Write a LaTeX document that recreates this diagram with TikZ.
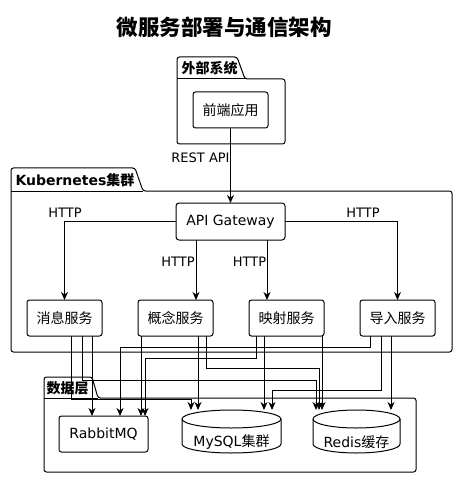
\documentclass[tikz,border=0pt]{standalone}
\usepackage{fontspec}
\setmainfont{DejaVu Sans}
\newfontfamily\cjk{Noto Sans CJK SC}
\usetikzlibrary{arrows.meta}
\begin{document}
\begin{tikzpicture}[x=1pt,y=-1pt,line width=1pt,
  box/.style={draw,fill=white,rounded corners=2.5pt,minimum width=75pt,minimum height=36pt,inner sep=0pt,outer sep=0pt,font=\fontsize{14}{16}\selectfont},
  dbbox/.style={draw=none,minimum height=42pt,inner sep=0pt,outer sep=0pt},
  dbtext/.style={inner sep=0pt,font=\fontsize{14}{16}\selectfont},
  lbl/.style={inner sep=0pt,font=\fontsize{13}{15}\selectfont},
  pkglbl/.style={inner sep=0pt,anchor=west,font=\bfseries\fontsize{14}{16}\selectfont},
  pkgline/.style={draw,rounded corners=2.5pt},
  arr/.style={-{Stealth[length=8pt,width=7pt,inset=2.5pt]}}
]
\useasboundingbox (0,0) rectangle (458,478);

% title
\node[inner sep=0pt,font=\bfseries\fontsize{21.5}{24}\selectfont] (title) at (224,27) {\cjk 微服务部署与通信架构};

% packages
\draw[pkgline] (177,57) -- (237,57) -- (245,79) -- (285,79) -- (285,144) -- (177,144) -- cycle;
\draw (177,79) -- (245,79);
\node[pkglbl] (extlbl) at (181,68) {\cjk 外部系统};

\draw[pkgline] (11,168) -- (135,168) -- (143,191) -- (452,191) -- (452,352) -- (11,352) -- cycle;
\draw (11,191) -- (143,191);
\node[pkglbl] (k8slbl) at (15,180) {Kubernetes{\cjk 集群}};

\draw[pkgline] (44,377) -- (92,377) -- (98,398) -- (416,398) -- (416,472) -- (44,472) -- cycle;
\draw (44,398) -- (98,398);
\node[pkglbl] (datalbl) at (46,388) {\cjk 数据层};

% nodes
\node[box] (fe) at (230.5,110) {\cjk 前端应用};
\node[box,minimum width=109pt,minimum height=37pt,rounded corners=3pt] (gw) at (230.5,221.5) {API Gateway};
\node[box] (msg) at (64.5,318) {\cjk 消息服务};
\node[box] (con) at (175.5,318) {\cjk 概念服务};
\node[box] (map) at (286.5,318) {\cjk 映射服务};
\node[box] (imp) at (397.5,318) {\cjk 导入服务};
\node[box,minimum width=89pt] (rmq) at (103.5,434) {RabbitMQ};

\node[dbbox,minimum width=99pt] (mysql) at (231.5,431) {};
\draw[fill=white] ([yshift=-9pt]mysql.north west) -- ([yshift=8pt]mysql.south west)
  arc[start angle=180,end angle=360,x radius=49.5pt,y radius=9pt]
  -- ([yshift=-9pt]mysql.north east)
  arc[start angle=0,end angle=180,x radius=49.5pt,y radius=9pt] -- cycle;
\draw ([yshift=-9pt]mysql.north west) arc[start angle=180,end angle=360,x radius=49.5pt,y radius=9pt];
\node[dbtext] (mysqlt) at ([yshift=-11pt]mysql.center) {MySQL{\cjk 集群}};

\node[dbbox,minimum width=87pt] (redis) at (356.5,431) {};
\draw[fill=white] ([yshift=-9pt]redis.north west) -- ([yshift=8pt]redis.south west)
  arc[start angle=180,end angle=360,x radius=43.5pt,y radius=9pt]
  -- ([yshift=-9pt]redis.north east)
  arc[start angle=0,end angle=180,x radius=43.5pt,y radius=9pt] -- cycle;
\draw ([yshift=-9pt]redis.north west) arc[start angle=180,end angle=360,x radius=43.5pt,y radius=9pt];
\node[dbtext] (redist) at ([yshift=-11pt]redis.center) {Redis{\cjk 缓存}};

% labels
\node[lbl] (rest) at (200.5,158) {REST API};
\node[lbl] (h1) at (65,213) {HTTP};
\node[lbl] (h2) at (178,262) {HTTP};
\node[lbl] (h3) at (249.5,262) {HTTP};
\node[lbl] (h4) at (363,213) {HTTP};

% connectors
\draw[arr] (fe.south) -- (fe.south |- gw.north);
\draw[arr] (gw.west) -| (msg.north);
\draw[arr] (gw.east) -| (imp.north);
\draw[arr] ([xshift=-34.5pt]gw.south) -- ([xshift=-34.5pt]gw.south |- con.north);
\draw[arr] ([xshift=36.5pt]gw.south) -- ([xshift=36.5pt]gw.south |- map.north);

% msg
\draw[arr] ([xshift=65pt]msg.south west) -- ([xshift=65pt]msg.south west |- rmq.north);
\draw[arr] ([xshift=55pt]msg.south west) -- ++(0,44) -| ([xshift=3pt]redis.north west);
\draw[arr] ([xshift=44pt]msg.south west) -- ++(0,63) -| ([xshift=9pt]mysql.north west);
% con
\draw[arr] ([xshift=3pt]con.south west) -- ([xshift=3pt]con.south west |- rmq.north);
\draw[arr] ([xshift=60pt]con.south west) -- ([xshift=60pt]con.south west |- mysql.north);
\draw[arr] ([xshift=68pt]con.south west) -- ++(0,32) -| ([xshift=6pt]redis.north west);
% map
\draw[arr] ([xshift=7pt]map.south west) -- ++(0,22) -| ([xshift=-3pt]rmq.north east);
\draw[arr] ([xshift=15pt]map.south west) -- ([xshift=15pt]map.south west |- mysql.north);
\draw[arr] ([xshift=73pt]map.south west) -- ([xshift=73pt]map.south west |- redis.north);
% imp
\draw[arr] ([xshift=10pt]imp.south west) -- ++(0,11) -| ([xshift=16.5pt]rmq.north);
\draw[arr] ([xshift=21pt]imp.south west) -- ++(0,54) -| ([xshift=-9pt]mysql.north east);
\draw[arr] ([xshift=31pt]imp.south west) -- ([xshift=31pt]imp.south west |- redis.north);
\end{tikzpicture}
\end{document}
